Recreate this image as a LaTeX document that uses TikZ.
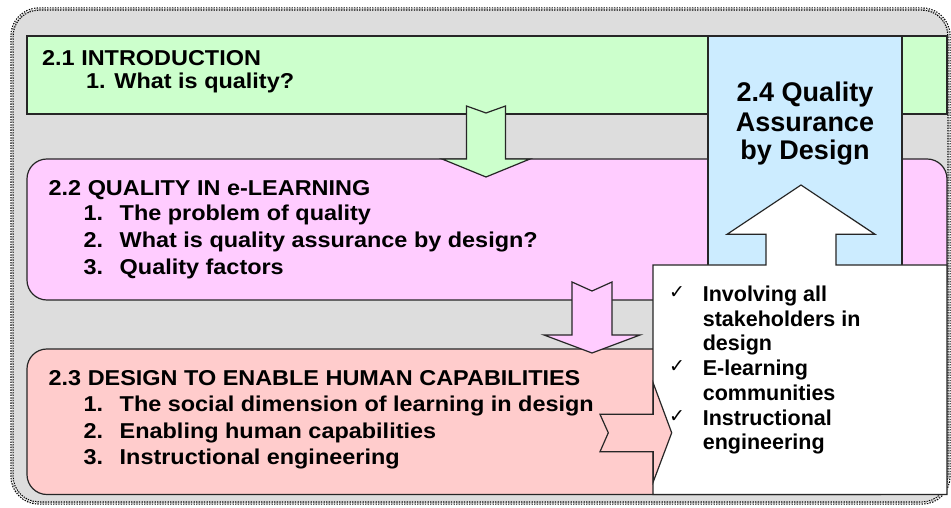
\documentclass[tikz,border=0pt]{standalone}
\usepackage{fontspec}
\setmainfont{Liberation Sans}
\newfontfamily\widefont{Liberation Sans}[FakeStretch=1.09]
\newfontfamily\tickfont{DejaVu Sans}
\usepackage{xcolor}

\begin{document}
\begin{tikzpicture}[x=1bp,y=-1bp,line join=miter,
		panel/.style={draw=black!85,line width=1.2bp},
		blockarrow/.style={draw=black!85,line width=1.2bp},
		head/.style={anchor=base west,inner sep=0pt,font=\fontsize{21.5bp}{24bp}\widefont\bfseries},
		sidetitle/.style={anchor=base,inner sep=0pt,font=\fontsize{27bp}{30bp}\selectfont\bfseries},
		checkline/.style={anchor=base west,inner sep=0pt,font=\fontsize{21.5bp}{24bp}\selectfont\bfseries},
		tick/.style={anchor=base west,inner sep=0pt,font=\fontsize{19bp}{20bp}\tickfont}]
				% Colors
				\definecolor{framecol}{HTML}{DDDDDD}
				\definecolor{introcol}{HTML}{CCFFCC}
				\definecolor{qualcol}{HTML}{FFCCFF}
				\definecolor{designcol}{HTML}{FFCCCC}
				\definecolor{assurecol}{HTML}{CCECFF}

				\useasboundingbox (0,0) rectangle (951,508);

				% outer frame
				\fill[framecol,rounded corners=27] (12,9) rectangle (949,503);
				\draw[black,line width=1.2bp,double=white,double distance=1bp,dash pattern=on 1.3bp off 1.3bp,rounded corners=27]
					(12,9) rectangle (949,503);

				% the three chapter boxes
				\draw[panel,fill=introcol] (27,36) rectangle (947,114);
				\draw[panel,fill=qualcol,rounded corners=20] (27,159) rectangle (947,300);
				\draw[panel,fill=designcol,rounded corners=20] (27,349) rectangle (900,494.5);

				% down arrows: centre / top / notch / head / tip / shaft / wing / colour
				\foreach \cx/\top/\notch/\hd/\tip/\sh/\wg/\col in {486/106/113/159/177/19.5/44/introcol, 592/282/291/335/353/20/48/qualcol}
				{
				  \draw[blockarrow,fill=\col] (\cx-\sh,\top) -- (\cx,\notch) -- (\cx+\sh,\top) -- (\cx+\sh,\hd)
					-- (\cx+\wg,\hd) -- (\cx,\tip) -- (\cx-\wg,\hd) -- (\cx-\sh,\hd) -- cycle;
				}

				% 2.4 column with its callout
				\draw[panel,fill=assurecol] (708,36) rectangle (902,300);
				\draw[panel,fill=white] (653,265) -- (766,265) -- (766,234.3) -- (727,234.3) -- (801,185)
					-- (875,234.3) -- (836,234.3) -- (836,265) -- (947,265) -- (947,494.5) -- (653,494.5) -- cycle;

				% notched arrow into the callout
				\draw[blockarrow,fill=designcol] (600,414.3) -- (653.3,414.3) -- (653.3,383.3) -- (671.7,432.8)
					-- (653.3,481.7) -- (653.3,451.7) -- (600,451.7) -- (608.3,432.8) -- cycle;

				% texts
				\node[head] (t21) at (42,66) {2.1 INTRODUCTION};
				\node[head] (t21a) at (86,89) {1. What is quality?};

				\node[head] (t22) at (48.5,195.3) {2.2 QUALITY IN e-LEARNING};
				\foreach \n/\y/\txt in {1/221/The problem of quality, 2/248/What is quality assurance by design?, 3/275/Quality factors}
				{
				  \node[head] (n22\n) at (83.5,\y) {\n.};
				  \node[head] (i22\n) at (119.5,\y) {\txt};
				}

				\node[head] (t23) at (48.5,385.3) {2.3 DESIGN TO ENABLE HUMAN CAPABILITIES};
				\foreach \n/\y/\txt in {1/411.7/The social dimension of learning in design, 2/438.3/Enabling human capabilities, 3/464.5/Instructional engineering}
				{
				  \node[head] (n23\n) at (83.5,\y) {\n.};
				  \node[head] (i23\n) at (119.5,\y) {\txt};
				}

				\node[sidetitle] (t24a) at (805,101.7) {2.4 Quality};
				\node[sidetitle] (t24b) at (805,131.7) {Assurance};
				\node[sidetitle] (t24c) at (805,160) {by Design};

				\foreach \y/\txt [count=\i] in {301.7/Involving all, 326.4/stakeholders in, 351/design, 375.7/E-learning, 400.4/communities, 425/Instructional, 449.7/engineering}
				  \node[checkline] (c\i) at (702.6,\y) {\txt};
				\foreach \y [count=\i] in {299,373,422.5}
				  \node[tick] (tick\i) at (669,\y) {✓};

				\end{tikzpicture}
\end{document}
